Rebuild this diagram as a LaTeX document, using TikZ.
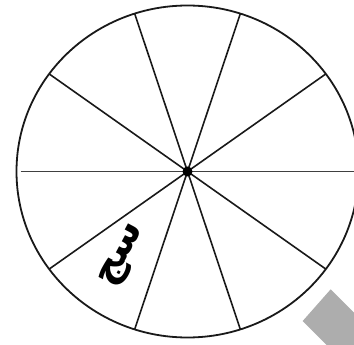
\documentclass[tikz,border=0pt]{standalone}
\usepackage{fontspec}
\usetikzlibrary{calc}
\newfontfamily\arabicfont[Script=Arabic]{DejaVu Sans}
\TeXXeTstate=1
\begin{document}
\begin{tikzpicture}[x=1pt,y=-1pt,
  rim/.style={line width=1.8pt,draw=black!90},
  spoke/.style={line width=1.6pt,draw=black!90},
  hline/.style={line width=1.3pt,draw=black!75}]
\useasboundingbox (0,0) rectangle (354,345);
\fill[white] (0,0) rectangle (354,345);
% grey tab
\fill[black!32] (330.7,289.3) -- (302.7,321) -- (326.7,345) -- (354,345) -- (354,312.6) -- cycle;
\coordinate (c) at (187.5,171.5);
\draw[rim] (c) ellipse [x radius=171, y radius=166];
\foreach \a in {36,72,108,144,216,252,288,324}
  \coordinate (p\a) at ($(c)+({171*cos(\a)},{-166*sin(\a)})$);
\coordinate (p0) at ($(c)+(171,0)$);
\coordinate (p180) at ($(c)+(-167,0)$);
\draw[hline] (p180) -- (p0);
\foreach \a/\b in {36/216,72/252,108/288,144/324}
  \draw[spoke] (p\a) -- (p\b);
\fill[black] (c) circle (5);
\node[rotate=62,inner sep=0pt,font=\arabicfont\bfseries\fontsize{40}{40}\selectfont] (t) at (124,256) {\beginR سج\endR};
\end{tikzpicture}
\end{document}
